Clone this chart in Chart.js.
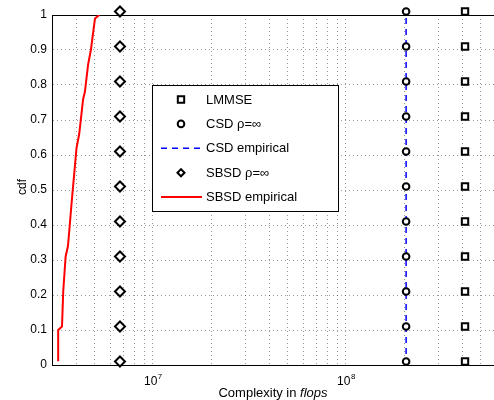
<!DOCTYPE html>
<html>
<head>
<meta charset="utf-8">
<script src="https://cdn.jsdelivr.net/npm/chart.js@4"></script>
<style>
  html, body { margin: 0; padding: 0; background: #fff; }
</style>
</head>
<body>
<canvas id="cdf" width="494" height="400"></canvas>
<script>
// values
const cdfLevels = [0.01, 0.11, 0.21, 0.31, 0.41, 0.51, 0.61, 0.71, 0.81, 0.91, 1.01];
const lmmseFlops = 4.14e8;
const csdFlops = 2.05e8;
const sbsdFlops = 6.75e6;
const csdEmpX = [2.05e8, 2.05e8];
const csdEmpY = [0, 1];
const sbsdEmpX = [3.23e6, 3.23e6, 3.38e6, 3.43e6, 3.53e6, 3.63e6, 3.80e6, 4.02e6, 4.15e6, 4.35e6, 4.44e6, 4.62e6, 4.77e6, 5.01e6, 5.27e6];
const sbsdEmpY = [0.011, 0.10, 0.11, 0.21, 0.31, 0.34, 0.47, 0.62, 0.66, 0.76, 0.78, 0.86, 0.90, 0.99, 1.0];

const xTicks = [3e6, 4e6, 5e6, 6e6, 7e6, 8e6, 9e6,
  1e7, 2e7, 3e7, 4e7, 5e7, 6e7, 7e7, 8e7, 9e7,
  1e8, 2e8, 3e8, 4e8, 5e8];
const xMajor = [1e7, 1e8];
const xMajorExp = ['7', '8'];
const yTicks = [0, 0.1, 0.2, 0.3, 0.4, 0.5, 0.6, 0.7, 0.8, 0.9, 1];
const yTickLabels = ['0', '0.1', '0.2', '0.3', '0.4', '0.5', '0.6', '0.7', '0.8', '0.9', '1'];
const seriesNames = ['LMMSE', 'CSD \u03c1=\u221e', 'CSD empirical', 'SBSD \u03c1=\u221e', 'SBSD empirical'];

const FONT = '"Liberation Sans", Arial, Helvetica, sans-serif';
const GRID = 'rgba(0,0,0,0.4)';

const pts = (xs, ys) => ys.map((y, i) => ({ x: Array.isArray(xs) ? xs[i] : xs, y }));

function markerSet(label, x, style, radius) {
  return {
    label,
    data: pts(x, cdfLevels),
    showLine: false,
    pointStyle: style,
    pointRadius: radius,
    pointBorderWidth: 2,
    pointBorderColor: '#000',
    pointBackgroundColor: '#fff',
    clip: false
  };
}

function drawMarker(ctx, style, x, y, r) {
  ctx.save();
  ctx.lineWidth = 2;
  ctx.strokeStyle = '#000';
  ctx.fillStyle = '#fff';
  ctx.beginPath();
  const s = r * Math.SQRT1_2;
  if (style === 'rect') {
    ctx.rect(x - s, y - s, 2 * s, 2 * s);
  } else if (style === 'rectRot') {
    ctx.moveTo(x - s, y); ctx.lineTo(x, y + s); ctx.lineTo(x + s, y); ctx.lineTo(x, y - s); ctx.closePath();
  } else {
    ctx.arc(x, y, r, 0, Math.PI * 2);
  }
  ctx.fill();
  ctx.stroke();
  ctx.restore();
}

const framePlugin = {
  id: 'frame',
  beforeDatasetsDraw(chart) {
    const { ctx, chartArea: a } = chart;
    ctx.save();
    ctx.strokeStyle = '#000';
    ctx.lineWidth = 1;
    ctx.strokeRect(a.left + 0.5, a.top + 0.5, a.right - a.left, a.bottom - a.top);
    ctx.restore();
  },
  afterDraw(chart) {
    const { ctx, chartArea: a } = chart;
    const xs = chart.scales.x;
    ctx.save();
    ctx.fillStyle = '#000';
    // x tick labels 10^n
    xMajor.forEach((v, i) => {
      const px = xs.getPixelForValue(v);
      ctx.font = '12px ' + FONT;
      const w10 = ctx.measureText('10').width;
      ctx.font = '8px ' + FONT;
      const we = ctx.measureText(xMajorExp[i]).width;
      const x0 = px - (w10 + we) / 2;
      ctx.font = '12px ' + FONT;
      ctx.textBaseline = 'alphabetic';
      ctx.textAlign = 'left';
      ctx.fillText('10', x0, 385);
      ctx.font = '8px ' + FONT;
      ctx.fillText(xMajorExp[i], x0 + w10 + 0.5, 379);
    });
    // x title with italic unit
    ctx.font = '13px ' + FONT;
    const t1 = 'Complexity in ';
    const w1 = ctx.measureText(t1).width;
    ctx.font = 'italic 13px ' + FONT;
    const w2 = ctx.measureText('flops').width;
    const cx = (a.left + a.right) / 2;
    const sx = cx - (w1 + w2) / 2;
    ctx.font = '13px ' + FONT;
    ctx.fillText(t1, sx, 397);
    ctx.font = 'italic 13px ' + FONT;
    ctx.fillText('flops', sx + w1, 397);
    // y title
    ctx.save();
    ctx.translate(26, 187);
    ctx.rotate(-Math.PI / 2);
    ctx.font = '12px ' + FONT;
    ctx.textAlign = 'center';
    ctx.fillText('cdf', 0, 0);
    ctx.restore();

    // legend box
    const bx = 152, by = 85, bw = 186, bh = 126;
    ctx.fillStyle = '#fff';
    ctx.fillRect(bx, by, bw, bh);
    ctx.strokeStyle = '#000';
    ctx.lineWidth = 1;
    ctx.strokeRect(bx + 0.5, by + 0.5, bw, bh);
    chart.data.datasets.forEach((d, i) => {
      const ry = 99.5 + i * 24.4;
      if (d.showLine === false) {
        drawMarker(ctx, d.pointStyle, 181, ry, d.pointRadius);
      } else {
        ctx.save();
        ctx.strokeStyle = d.borderColor;
        ctx.lineWidth = d.borderWidth;
        ctx.setLineDash(d.borderDash || []);
        ctx.beginPath();
        ctx.moveTo(161, ry);
        ctx.lineTo(202, ry);
        ctx.stroke();
        ctx.restore();
      }
      ctx.fillStyle = '#000';
      ctx.font = '13px ' + FONT;
      ctx.textAlign = 'left';
      ctx.textBaseline = 'middle';
      ctx.fillText(d.label, 206, ry + 0.5);
    });
    ctx.restore();
  }
};

new Chart(document.getElementById('cdf'), {
  type: 'scatter',
  data: {
    datasets: [
      markerSet(seriesNames[0], lmmseFlops, 'rect', 4.5),
      markerSet(seriesNames[1], csdFlops, 'circle', 3.3),
      {
        label: seriesNames[2],
        data: pts(csdEmpX, csdEmpY),
        showLine: true,
        borderColor: '#0000ff',
        borderWidth: 1.5,
        borderDash: [6, 5],
        pointRadius: 0
      },
      markerSet(seriesNames[3], sbsdFlops, 'rectRot', 5),
      {
        label: seriesNames[4],
        data: pts(sbsdEmpX, sbsdEmpY),
        showLine: true,
        borderColor: '#ff0000',
        borderWidth: 2,
        pointRadius: 0
      }
    ]
  },
  options: {
    responsive: false,
    animation: false,
    events: [],
    layout: { autoPadding: false, padding: { top: 15, right: 0, left: 0, bottom: 0 } },
    plugins: { legend: { display: false }, tooltip: { enabled: false } },
    scales: {
      x: {
        type: 'logarithmic',
        min: 3e6,
        max: 5.85e8,
        afterBuildTicks: s => { s.ticks = xTicks.map(v => ({ value: v })); },
        afterFit: s => { s.height = 35; s.paddingLeft = 0; s.paddingRight = 0; },
        ticks: { autoSkip: false, maxRotation: 0, padding: 0, callback: () => '' },
        grid: { color: GRID, lineWidth: 1, drawTicks: false },
        border: { display: true, color: '#000', dash: [1, 3] }
      },
      y: {
        min: 0,
        max: 1,
        afterBuildTicks: s => { s.ticks = yTicks.map(v => ({ value: v })); },
        afterFit: s => { s.width = 52; },
        ticks: {
          padding: 5,
          color: '#000',
          font: { family: FONT, size: 12 },
          callback: (v, i) => yTickLabels[i]
        },
        grid: { color: GRID, lineWidth: 1, drawTicks: false },
        border: { display: true, color: '#000', dash: [1, 3] }
      }
    }
  },
  plugins: [framePlugin]
});
</script>
</body>
</html>
